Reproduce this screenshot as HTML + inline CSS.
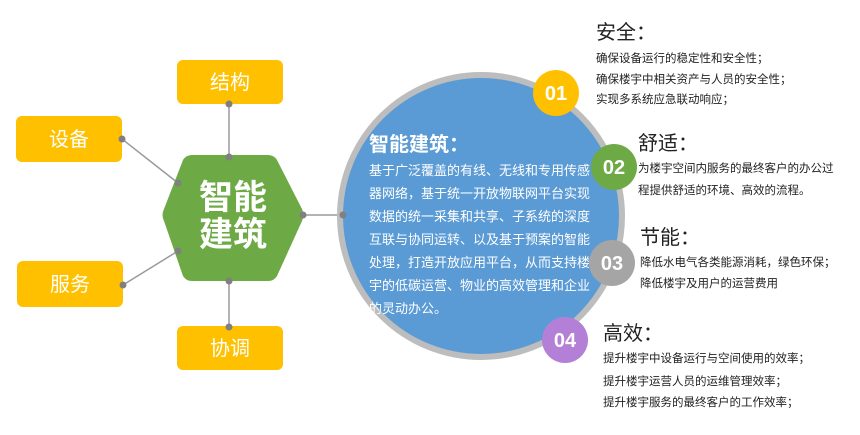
<!DOCTYPE html>
<html><head><meta charset="utf-8"><style>
body{margin:0;background:#fff;}
svg text{font-family:"Liberation Sans","Noto Sans CJK SC",sans-serif;}
</style></head><body>
<svg width="860" height="430" viewBox="0 0 860 430" xmlns="http://www.w3.org/2000/svg">
<g stroke="#9a9a9a" stroke-width="1.5">
<line x1="229" y1="104" x2="229" y2="157"/>
<line x1="229" y1="281" x2="229" y2="327"/>
<line x1="122" y1="139" x2="178" y2="183"/>
<line x1="123" y1="285" x2="178" y2="251"/>
<line x1="303" y1="215" x2="343" y2="215"/>
</g>
<g fill="#FFC000">
<rect x="177" y="60" width="106" height="44" rx="6"/>
<rect x="16" y="116" width="106" height="46" rx="6"/>
<rect x="17" y="261" width="106" height="46" rx="6"/>
<rect x="177" y="326" width="106" height="44" rx="6"/>
</g>
<g fill="#fff" font-size="20" text-anchor="middle">
<text x="230" y="89">结构</text>
<text x="69" y="146">设备</text>
<text x="70" y="291">服务</text>
<text x="230" y="355">协调</text>
</g>
<path d="M192,155 L268,155 Q274,155 277,160 L302,209 Q305,215 302,221 L277,276 Q274,281 268,281 L192,281 Q186,281 183,276 L164,221 Q161,215 164,209 L183,160 Q186,155 192,155 Z" fill="#6DAA45"/>
<g fill="#fff" font-size="34" font-weight="bold" text-anchor="middle">
<text x="233" y="209">智能</text>
<text x="233" y="246">建筑</text>
</g>
<g fill="#808080">
<circle cx="229" cy="104" r="3.5"/><circle cx="229" cy="157" r="3.5"/>
<circle cx="229" cy="281" r="3.5"/><circle cx="229" cy="327" r="3.5"/>
<circle cx="122" cy="139" r="3.5"/><circle cx="178" cy="183" r="3.5"/>
<circle cx="123" cy="285" r="3.5"/><circle cx="178" cy="251" r="3.5"/>
<circle cx="303" cy="215" r="3.5"/>
</g>
<circle cx="481" cy="216" r="141" fill="#5B9BD5" stroke="#BDBDBD" stroke-width="6"/>
<circle cx="343" cy="215" r="3.5" fill="#808080"/>
<text x="369" y="151" fill="#fff" font-size="20" font-weight="bold">智能建筑：</text>
<g fill="#fff" font-size="13">
<text x="369" y="175">基于广泛覆盖的有线、无线和专用传感</text>
<text x="369" y="198">器网络，基于统一开放物联网平台实现</text>
<text x="369" y="221">数据的统一采集和共享、子系统的深度</text>
<text x="369" y="244">互联与协同运转、以及基于预案的智能</text>
<text x="369" y="267">处理，打造开放应用平台，从而支持楼</text>
<text x="369" y="290">宇的低碳运营、物业的高效管理和企业</text>
<text x="369" y="313">的灵动办公。</text>
</g>
<circle cx="556" cy="93" r="23" fill="#FFC000"/>
<circle cx="614" cy="167" r="23" fill="#6DAA45"/>
<circle cx="612" cy="263" r="23" fill="#A5A5A5"/>
<circle cx="565" cy="340" r="23" fill="#B47FD6"/>
<g fill="#fff" font-size="20" font-weight="bold" text-anchor="middle">
<text x="556" y="100">01</text>
<text x="614" y="174">02</text>
<text x="612" y="270">03</text>
<text x="565" y="347">04</text>
</g>
<g fill="#222" font-size="20">
<text x="596" y="39">安全：</text>
<text x="638" y="150">舒适：</text>
<text x="640" y="244">节能：</text>
<text x="603" y="340">高效：</text>
</g>
<g fill="#222" font-size="11.5">
<text x="596" y="62">确保设备运行的稳定性和安全性；</text>
<text x="596" y="83">确保楼宇中相关资产与人员的安全性；</text>
<text x="596" y="103">实现多系统应急联动响应；</text>
<text x="638" y="172">为楼宇空间内服务的最终客户的办公过</text>
<text x="638" y="194">程提供舒适的环境、高效的流程。</text>
<text x="640" y="266">降低水电气各类能源消耗，绿色环保；</text>
<text x="640" y="287">降低楼宇及用户的运营费用</text>
<text x="603" y="362">提升楼宇中设备运行与空间使用的效率；</text>
<text x="603" y="385">提升楼宇运营人员的运维管理效率；</text>
<text x="603" y="406">提升楼宇服务的最终客户的工作效率；</text>
</g>
</svg>
</body></html>
